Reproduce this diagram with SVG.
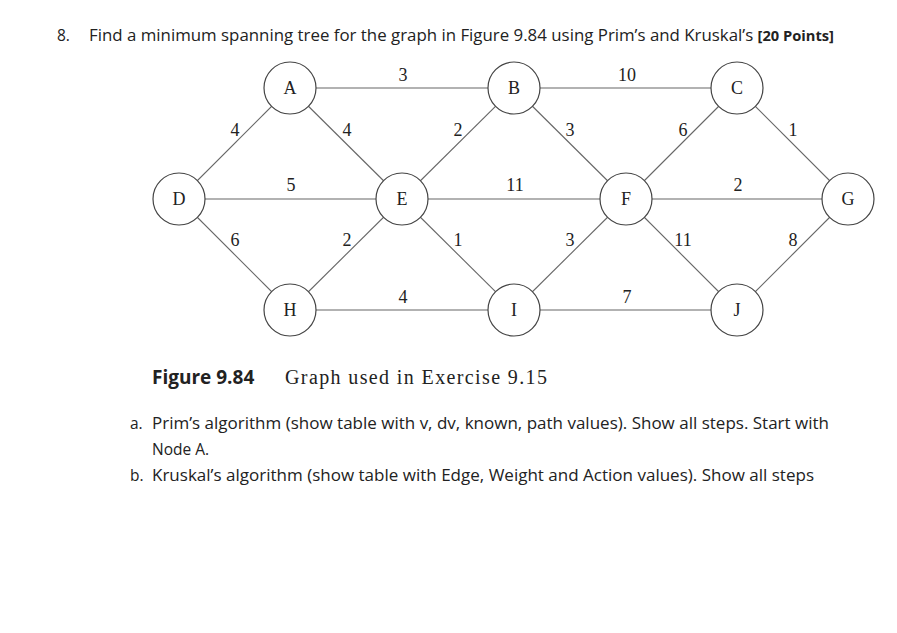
<svg xmlns="http://www.w3.org/2000/svg" width="897" height="633" viewBox="0 0 897 633">
<style>
.n circle{fill:#fff;stroke:#444;stroke-width:1.2}
.n text,.w{font-family:"Liberation Serif",serif;font-size:18px;fill:#222;text-anchor:middle}
.e line{stroke:#666;stroke-width:1.1}
.t{font-family:"Open Sans","Liberation Sans",sans-serif;font-size:15.5px;fill:#222}
</style>
<rect width="897" height="633" fill="#fff"/>
<text class="t" x="57" y="41">8.</text>
<text class="t" x="89" y="41" textLength="745" lengthAdjust="spacingAndGlyphs">Find a minimum spanning tree for the graph in Figure 9.84 using Prim’s and Kruskal’s <tspan font-weight="bold" font-size="13.5">[20 Points]</tspan></text>
<g class="e" id="connectors">
<line x1="290" y1="88" x2="514" y2="88"/><line x1="514" y1="88" x2="737" y2="88"/>
<line x1="179" y1="199" x2="848" y2="199"/>
<line x1="290" y1="310" x2="737" y2="310"/>
<line x1="179" y1="199" x2="290" y2="88"/><line x1="179" y1="199" x2="290" y2="310"/>
<line x1="290" y1="88" x2="402" y2="199"/><line x1="290" y1="310" x2="402" y2="199"/>
<line x1="402" y1="199" x2="514" y2="88"/><line x1="402" y1="199" x2="514" y2="310"/>
<line x1="514" y1="88" x2="626" y2="199"/><line x1="514" y1="310" x2="626" y2="199"/>
<line x1="626" y1="199" x2="737" y2="88"/><line x1="626" y1="199" x2="737" y2="310"/>
<line x1="737" y1="88" x2="848" y2="199"/><line x1="737" y1="310" x2="848" y2="199"/>
</g>
<g id="weights">
<text class="w" x="403" y="81">3</text><text class="w" x="627" y="81">10</text>
<text class="w" x="235" y="136">4</text><text class="w" x="347" y="136">4</text><text class="w" x="458" y="136">2</text><text class="w" x="570" y="136">3</text><text class="w" x="683" y="136">6</text><text class="w" x="793" y="136">1</text>
<text class="w" x="291" y="191">5</text><text class="w" x="515" y="191">11</text><text class="w" x="738" y="191">2</text>
<text class="w" x="235" y="246">6</text><text class="w" x="347" y="246">2</text><text class="w" x="458" y="246">1</text><text class="w" x="570" y="246">3</text><text class="w" x="683" y="246">11</text><text class="w" x="793" y="246">8</text>
<text class="w" x="403" y="303">4</text><text class="w" x="627" y="303">7</text>
</g>
<g class="n" id="A"><circle cx="290" cy="88" r="26"/><text x="290" y="94">A</text></g>
<g class="n" id="B"><circle cx="514" cy="88" r="26"/><text x="514" y="94">B</text></g>
<g class="n" id="C"><circle cx="737" cy="88" r="26"/><text x="737" y="94">C</text></g>
<g class="n" id="D"><circle cx="179" cy="199" r="26"/><text x="179" y="205">D</text></g>
<g class="n" id="E"><circle cx="402" cy="199" r="26"/><text x="402" y="205">E</text></g>
<g class="n" id="F"><circle cx="626" cy="199" r="26"/><text x="626" y="205">F</text></g>
<g class="n" id="G"><circle cx="848" cy="199" r="26"/><text x="848" y="205">G</text></g>
<g class="n" id="H"><circle cx="290" cy="310" r="26"/><text x="290" y="316">H</text></g>
<g class="n" id="I"><circle cx="514" cy="310" r="26"/><text x="514" y="316">I</text></g>
<g class="n" id="J"><circle cx="737" cy="310" r="26"/><text x="737" y="316">J</text></g>
<text x="152" y="384" font-family="'Open Sans','Liberation Sans',sans-serif" font-weight="bold" font-size="19" fill="#222">Figure 9.84</text>
<text x="285" y="384" font-family="'Liberation Serif',serif" font-size="20" fill="#222" textLength="262" lengthAdjust="spacing">Graph used in Exercise 9.15</text>
<text class="t" x="130" y="429">a.</text>
<text class="t" x="152" y="429" textLength="677" lengthAdjust="spacingAndGlyphs">Prim’s algorithm (show table with v, dv, known, path values). Show all steps. Start with</text>
<text class="t" x="152" y="455">Node A.</text>
<text class="t" x="130" y="481">b.</text>
<text class="t" x="152" y="481" textLength="662" lengthAdjust="spacingAndGlyphs">Kruskal’s algorithm (show table with Edge, Weight and Action values). Show all steps</text>
</svg>
